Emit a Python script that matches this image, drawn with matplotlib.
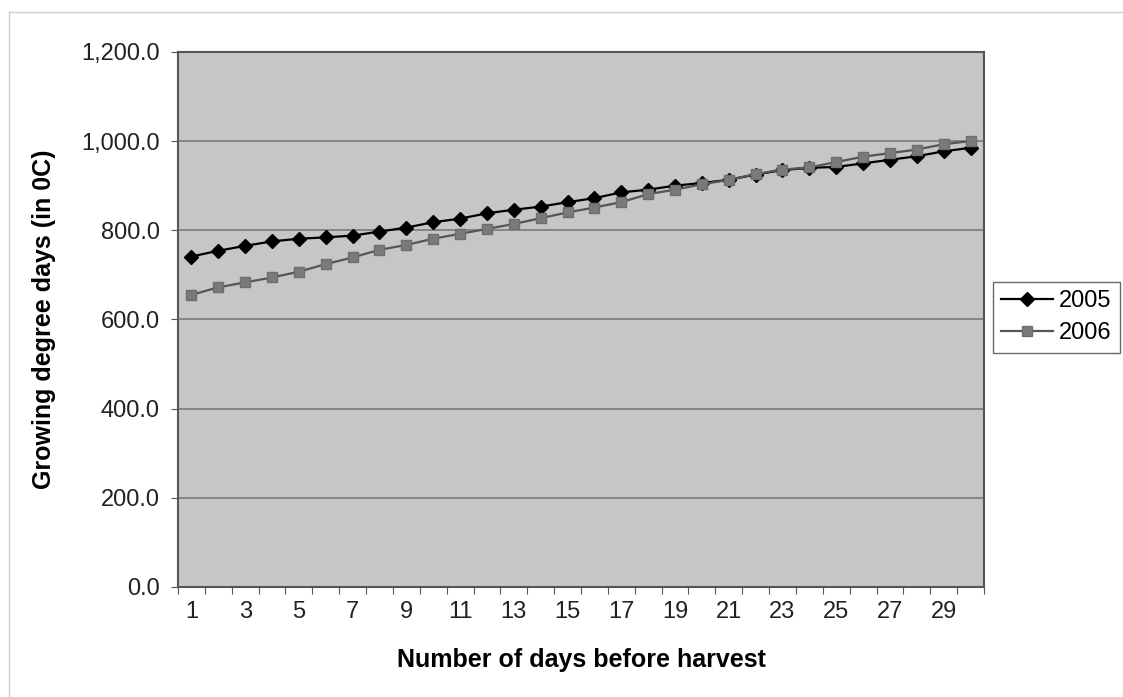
import numpy as np
import matplotlib.pyplot as plt
from matplotlib.lines import Line2D

plt.rcParams['font.family'] = ['Liberation Sans', 'DejaVu Sans']

# growing degree days for each of the 30 days before harvest
days = list(range(1, 31))
gdd_2005 = [741, 754, 765, 775, 781, 784, 788, 797, 806, 818,
            826, 838, 846, 853, 863, 872, 885, 891, 900, 906,
            913, 925, 935, 940, 942, 950, 958, 966, 977, 985]
gdd_2006 = [655, 672, 683, 694, 707, 724, 739, 756, 767, 781,
            792, 803, 814, 827, 840, 851, 863, 881, 891, 903,
            913, 926, 936, 941, 953, 965, 973, 981, 993, 1000]
y_ticks = [0, 200, 400, 600, 800, 1000, 1200]

fig = plt.figure(figsize=(11.23, 6.97), dpi=100)
ax = fig.add_axes([0.1585, 0.158, 0.7177, 0.7675])
ax.set_facecolor('#c6c6c6')

ax.plot(days, gdd_2005, color='black', lw=1.6, marker='D', ms=7.5,
        mfc='black', mec='black', label='2005', zorder=3)
ax.plot(days, gdd_2006, color='#555555', lw=1.6, marker='s', ms=7.5,
        mfc='#7a7a7a', mec='#6e6e6e', label='2006', zorder=3)

ax.set_xlim(0.5, 30.5)
ax.set_ylim(0, 1200)
ax.set_yticks(y_ticks)
ax.set_yticklabels([f'{v:,.1f}' for v in y_ticks])
ax.yaxis.grid(True, color='#7a7a7a', lw=1.2)
ax.set_axisbelow(True)

# category boundaries get the tick marks, every other day gets a label
ax.set_xticks(np.arange(0.5, 31, 1))
ax.set_xticklabels([])
ax.set_xticks(days[::2], minor=True)
ax.set_xticklabels([str(d) for d in days[::2]], minor=True)
ax.tick_params(axis='x', which='major', length=5, color='#555555')
ax.tick_params(axis='x', which='minor', length=0, pad=10, labelsize=17, labelcolor='#222222')
ax.tick_params(axis='y', length=5, color='#555555', labelsize=17, labelcolor='#222222', pad=8)

for s in ax.spines.values():
    s.set_color('#555555')
    s.set_linewidth(1.5)

ax.set_xlabel('Number of days before harvest', fontsize=18, fontweight='bold', labelpad=18)
ax.set_ylabel('Growing degree days (in 0C)', fontsize=18, fontweight='bold', labelpad=18)

leg = fig.legend(loc='center left', bbox_to_anchor=(0.884, 0.545), fontsize=17,
                 frameon=True, fancybox=False, handlelength=2.2, handletextpad=0.25,
                 borderpad=0.35, labelspacing=0.45, borderaxespad=0)
leg.get_frame().set_edgecolor('#444444')
leg.get_frame().set_linewidth(1.0)

# thin outer border of the chart area
fig.add_artist(Line2D([9 / 1123, 1], [1 - 12 / 697, 1 - 12 / 697],
                      transform=fig.transFigure, color='#d0d0d0', lw=1))
fig.add_artist(Line2D([9 / 1123, 9 / 1123], [0, 1 - 12 / 697],
                      transform=fig.transFigure, color='#d0d0d0', lw=1))

fig.savefig('out.png', dpi=100)
